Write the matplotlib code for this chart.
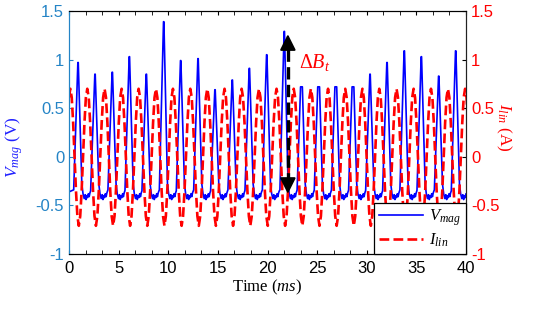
import matplotlib
matplotlib.use("Agg")
import matplotlib.pyplot as plt
from matplotlib.ticker import MultipleLocator
import numpy as np

plt.rcParams['font.family'] = ['Liberation Sans', 'DejaVu Sans']
plt.rcParams['mathtext.fontset'] = 'custom'
plt.rcParams['mathtext.rm'] = 'Liberation Serif'
plt.rcParams['mathtext.it'] = 'Liberation Serif:italic'

# blue spikes (V_mag): time of each peak (ms) and its height (V)
v_peak_t = [0.91, 2.62, 4.36, 6.08, 7.79, 9.54, 11.25, 13.00, 14.71, 16.45, 18.17, 19.92,
            21.69, 23.42, 25.15, 26.88, 28.61, 30.33, 32.04, 33.78, 35.50, 37.25, 38.96]
v_peak = [0.97, 0.85, 0.87, 1.03, 0.85, 1.39, 0.99, 1.01, 0.69, 0.79, 0.91, 1.05,
          1.29, 0.72, 0.72, 0.72, 0.72, 0.85, 0.97, 1.09, 1.03, 0.83, 1.09]
v_top_w = [0.04] * 13 + [0.18] * 4 + [0.04] * 6   # flat (clipped) tops
# one spike cycle: offset from peak (ms), value (V)
v_shape_dt = [-0.44, 0.38, 0.50, 0.62, 0.72, 0.80, 0.88, 0.96, 1.04, 1.12, 1.20, 1.27]
v_shape = [-0.34, -0.28, -0.38, -0.43, -0.39, -0.44, -0.40, -0.42, -0.38, -0.41, -0.37, -0.35]

# red current (I_lin): peak times (ms) and one period of its shape
i_peak_t = [-1.60, 0.13, 1.84, 3.58, 5.30, 7.01, 8.76, 10.47, 12.22, 13.93, 15.67, 17.39,
            19.14, 20.91, 22.64, 24.37, 26.10, 27.83, 29.56, 31.26, 33.00, 34.72,
            36.47, 38.18, 39.91, 41.64]
i_shape = [0.70, 0.61, 0.35, 0.0, -0.35, -0.61, -0.71, -0.61, -0.35, 0.0, 0.35, 0.61]

# build the blue trace
vt, vv = [-0.9], [-0.40]
for tp, p, w in zip(v_peak_t, v_peak, v_top_w):
    vt.append(tp + v_shape_dt[0]); vv.append(v_shape[0])
    vt += [tp - w / 2, tp + w / 2]; vv += [p, p]
    for dt, val in zip(v_shape_dt[1:], v_shape[1:]):
        vt.append(tp + dt); vv.append(val)

# build the red trace
it, iv = [], []
for a, b in zip(i_peak_t[:-1], i_peak_t[1:]):
    n = len(i_shape)
    for k in range(n):
        it.append(a + (b - a) * k / n); iv.append(i_shape[k])
it.append(i_peak_t[-1]); iv.append(i_shape[0])

left_c = '#2484c6'
fig = plt.figure(figsize=(5.38, 3.2), dpi=100)
ax = fig.add_axes([0.1283, 0.2063, 0.7379, 0.7593])
ax2 = ax.twinx()

l1, = ax.plot(vt, vv, color='#0000ff', lw=1.2)
l2, = ax2.plot(it, iv, color='#ff0000', lw=1.9, ls='--')

for a in (ax, ax2):
    a.set_xlim(0, 40)
    a.set_ylim(-1, 1.5)
    a.spines['left'].set_color(left_c)
    a.spines['right'].set_color('#222222')

ax.set_yticks([-1, -0.5, 0, 0.5, 1, 1.5])
ax.set_yticklabels(['-1', '-0.5', '0', '0.5', '1', '1.5'])
ax2.set_yticks([-1, -0.5, 0, 0.5, 1, 1.5])
ax2.set_yticklabels(['-1', '-0.5', '0', '0.5', '1', '1.5'])
ax.xaxis.set_major_locator(MultipleLocator(5))
ax.xaxis.set_minor_locator(MultipleLocator(5 / 3))
ax.tick_params(axis='x', which='both', direction='in', top=True, length=3, labelsize=12, pad=5)
ax.tick_params(axis='y', direction='in', length=3, color=left_c, labelcolor=left_c, labelsize=12)
ax2.tick_params(axis='y', direction='in', length=3, labelcolor='#ff0000', labelsize=12)

ax.set_xlabel('Time ($\\it{ms}$)', family='Liberation Serif', fontsize=12, labelpad=1)
ax.set_ylabel('$V_{mag}$ (V)', family='Liberation Serif', fontsize=12.5, color='#2020ff')
ax.yaxis.set_label_coords(-0.11, 0.44)
ax2.set_ylabel('$I_{lin}$ (A)', family='Liberation Serif', fontsize=12.5, color='#ff0000',
               rotation=270)
ax2.yaxis.set_label_coords(1.118, 0.52)

# Delta B_t arrow
xa, ytop, ybot = 22.05, 1.29, -0.41
ax2.plot([xa, xa], [ybot + 0.12, ytop - 0.12], color='k', ls='--', lw=2.4)
ax2.annotate('', xy=(xa, ytop), xytext=(xa, ytop - 0.14),
             arrowprops=dict(arrowstyle='-|>', color='k', mutation_scale=24, lw=1.5))
ax2.annotate('', xy=(xa, ybot), xytext=(xa, ybot + 0.14),
             arrowprops=dict(arrowstyle='-|>', color='k', mutation_scale=24, lw=1.5))
ax2.text(23.2, 0.97, '$\\Delta B_t$', color='#ff0000', fontsize=14.5, va='center')

leg = ax2.legend([l1, l2], ['$V_{mag}$', '$I_{lin}$'], loc='lower right',
                 borderaxespad=0, fancybox=False, framealpha=1, edgecolor='k',
                 fontsize=12, handlelength=2.6, handletextpad=0.4,
                 borderpad=0.3, labelspacing=0.2)
leg.get_frame().set_linewidth(0.9)

fig.savefig('out.png', dpi=100)
